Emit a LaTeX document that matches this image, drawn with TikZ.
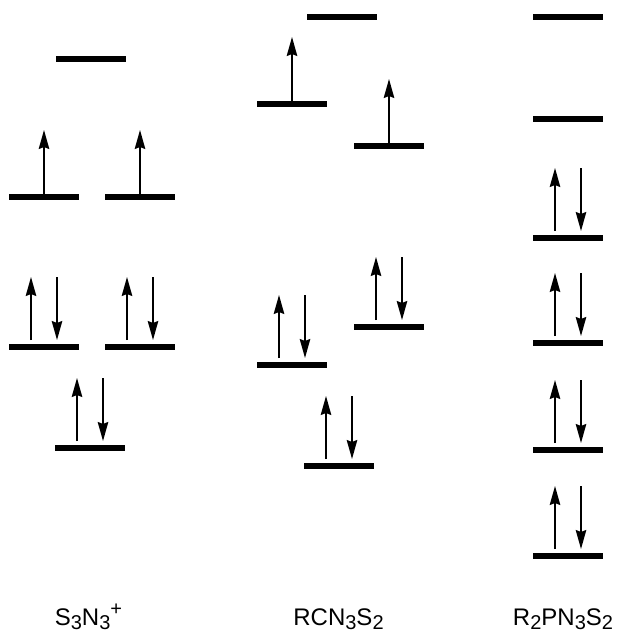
\documentclass[tikz,border=0pt]{standalone}
\usepackage{fontspec}
\setmainfont{Liberation Sans}
\usetikzlibrary{arrows.meta,calc}
\tikzset{
  lvl/.style={line width=5.5pt},
  spin/.style={line width=1.7pt,-{Stealth[length=19pt,width=10.5pt,inset=2pt]}},
  lbl/.style={font=\fontsize{24}{28}\selectfont,inner sep=0pt}
}
\newcommand{\mysub}[1]{\raisebox{-4.5pt}{\fontsize{20}{20}\selectfont #1}}
\newcommand{\mysup}[1]{\raisebox{10pt}{\fontsize{20}{20}\selectfont #1}}
\newcommand{\mylev}[2]{\draw[lvl] (#1,#2) -- ++(70,0);}
\newcommand{\mypair}[2]{%
  \draw[lvl] (#1,#2) -- ++(70,0);
  \draw[spin] ($(#1,#2)+(22,-7)$) -- ++(0,-63);
  \draw[spin] ($(#1,#2)+(48,-70)$) -- ++(0,63);}
\newcommand{\mysingle}[2]{%
  \draw[lvl] (#1,#2) -- ++(70,0);
  \draw[spin] ($(#1,#2)+(35,-3)$) -- ++(0,-64);}
\begin{document}
\begin{tikzpicture}[x=1pt,y=-1pt]
\useasboundingbox (0,0) rectangle (617,634);
% column 1: S3N3+
\mylev{56}{59}
\mysingle{9}{197}
\mysingle{105}{197}
\mypair{9}{347}
\mypair{105}{347}
\mypair{55}{448}
% column 2: RCN3S2
\mylev{307}{17}
\mysingle{257}{104}
\mysingle{354}{146}
\mypair{354}{327}
\mypair{257}{365}
\mypair{304}{466}
% column 3: R2PN3S2
\mylev{533}{17}
\mylev{533}{119}
\mypair{533}{238}
\mypair{533}{343}
\mypair{533}{450}
\mypair{533}{556}
% labels
\node[lbl,anchor=base] (l1) at (88.5,625) {S\mysub{3}N\mysub{3}\mysup{+}};
\node[lbl,anchor=base] (l2) at (338.5,625) {RCN\mysub{3}S\mysub{2}};
\node[lbl,anchor=base] (l3) at (563,625) {R\mysub{2}PN\mysub{3}S\mysub{2}};
\end{tikzpicture}
\end{document}
